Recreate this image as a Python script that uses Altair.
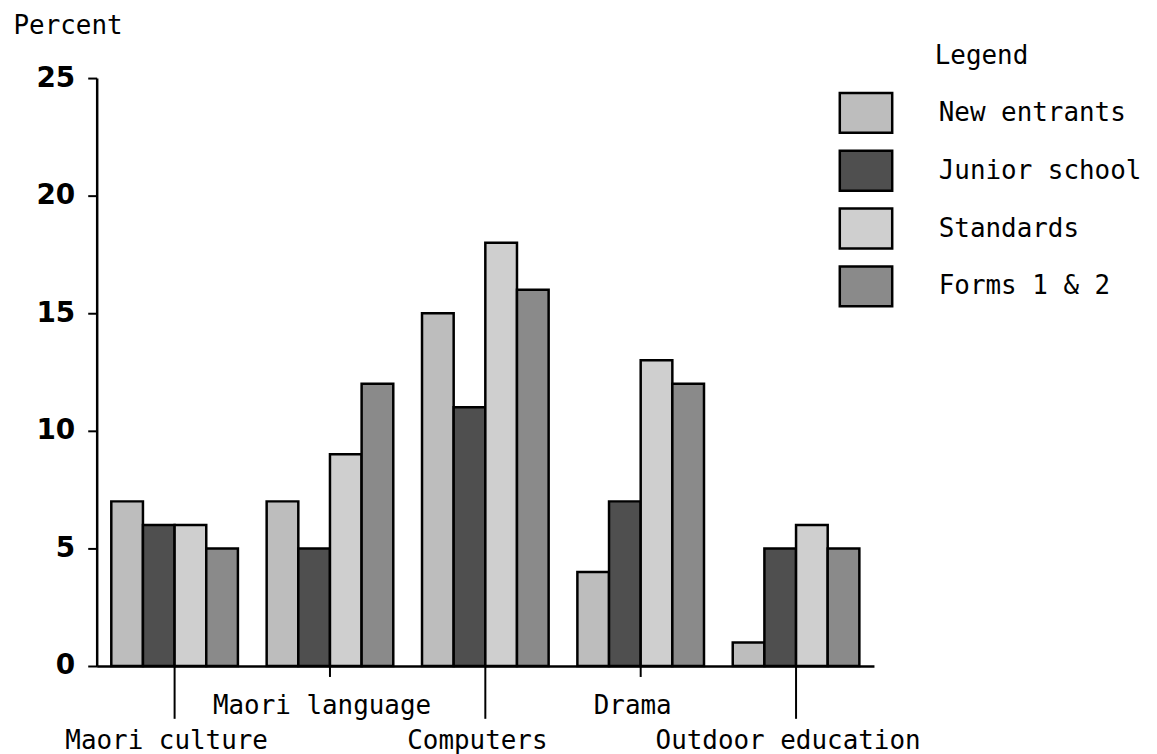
import altair as alt
import pandas as pd

# ---- data ----
categories = ["Maori culture", "Maori language", "Computers", "Drama", "Outdoor education"]
series = ["New entrants", "Junior school", "Standards", "Forms 1 & 2"]
new_entrants = [7, 7, 15, 4, 1]
junior_school = [6, 5, 11, 7, 5]
standards = [6, 9, 18, 13, 6]
forms_1_2 = [5, 12, 16, 12, 5]
label_row = [2, 1, 2, 1, 2]          # staggered category label level
y_ticks = [0, 5, 10, 15, 20, 25]
y_title = "Percent"
legend_title = "Legend"

rows = []
for s, vals in zip(series, [new_entrants, junior_school, standards, forms_1_2]):
    for c, v in zip(categories, vals):
        rows.append({"category": c, "series": s, "value": v})
df = pd.DataFrame(rows)
cat_df = pd.DataFrame({"category": categories, "row": label_row})
title_df = pd.DataFrame({"t": [legend_title]})

# ---- style ----
W, H = 780, 590
fills = ["#bdbdbd", "#4f4f4f", "#cfcfcf", "#8a8a8a"]
MONO = "DejaVu Sans Mono"
FS = 26

x_enc = alt.X(
    "category:N",
    title=None,
    sort=categories,
    scale=alt.Scale(domain=categories, paddingInner=0.185, paddingOuter=0.094),
    axis=alt.Axis(labels=False, ticks=False, domain=True, domainColor="black",
                  domainWidth=2.5, grid=False),
)

bars = alt.Chart(df).mark_bar(stroke="black", strokeWidth=2.5).encode(
    x=x_enc,
    xOffset=alt.XOffset("series:N", sort=series, scale=alt.Scale(domain=series)),
    y=alt.Y(
        "value:Q",
        title=y_title,
        scale=alt.Scale(domain=[0, 25], nice=False),
        axis=alt.Axis(
            values=y_ticks, grid=False,
            titleAngle=0, titleX=-84, titleY=-45, titleAlign="left",
            titleBaseline="alphabetic", titleFont=MONO, titleFontSize=FS,
            titleFontWeight="normal", titleColor="black",
            labelFont="DejaVu Sans", labelFontWeight="bold", labelFontSize=28,
            labelColor="black", labelPadding=13,
            tickSize=9, tickColor="black", tickWidth=2,
            domainColor="black", domainWidth=2.5,
        ),
    ),
    fill=alt.Fill(
        "series:N",
        title=None,
        sort=series,
        scale=alt.Scale(domain=series, range=fills),
        legend=alt.Legend(
            orient="none", legendX=744, legendY=7, padding=0,
            symbolType="M-1,-0.76L1,-0.76L1,0.76L-1,0.76Z", symbolSize=2767,
            symbolStrokeColor="black", symbolStrokeWidth=2.5, symbolOpacity=1,
            labelFont=MONO, labelFontSize=FS, labelColor="black",
            labelOffset=45, rowPadding=5, labelLimit=400,
        ),
    ),
)

long_ticks = alt.Chart(cat_df).transform_filter("datum.row == 2").mark_rule(
    color="black", strokeWidth=2
).encode(x=x_enc, y=alt.value(H), y2=alt.value(H + 53))

short_ticks = alt.Chart(cat_df).transform_filter("datum.row == 1").mark_rule(
    color="black", strokeWidth=2
).encode(x=x_enc, y=alt.value(H), y2=alt.value(H + 11))

labels_1 = alt.Chart(cat_df).transform_filter("datum.row == 1").mark_text(
    font=MONO, fontSize=FS, baseline="alphabetic", align="center", dx=-8, color="black"
).encode(x=x_enc, y=alt.value(H + 48), text="category:N")

labels_2 = alt.Chart(cat_df).transform_filter("datum.row == 2").mark_text(
    font=MONO, fontSize=FS, baseline="alphabetic", align="center", dx=-8, color="black"
).encode(x=x_enc, y=alt.value(H + 83), text="category:N")

legend_head = alt.Chart(title_df).mark_text(
    font=MONO, fontSize=FS, baseline="alphabetic", align="left", color="black"
).encode(x=alt.value(841), y=alt.value(-14), text="t:N")

chart = alt.layer(
    bars, long_ticks, short_ticks, labels_1, labels_2, legend_head
).properties(
    width=W,
    height=H,
    autosize=alt.AutoSizeParams(type="none"),
    padding={"left": 89, "top": 69, "right": 276, "bottom": 87},
    background="white",
).configure_view(strokeWidth=0)

chart.save("out.html", embed_options={"renderer": "svg", "actions": False})
